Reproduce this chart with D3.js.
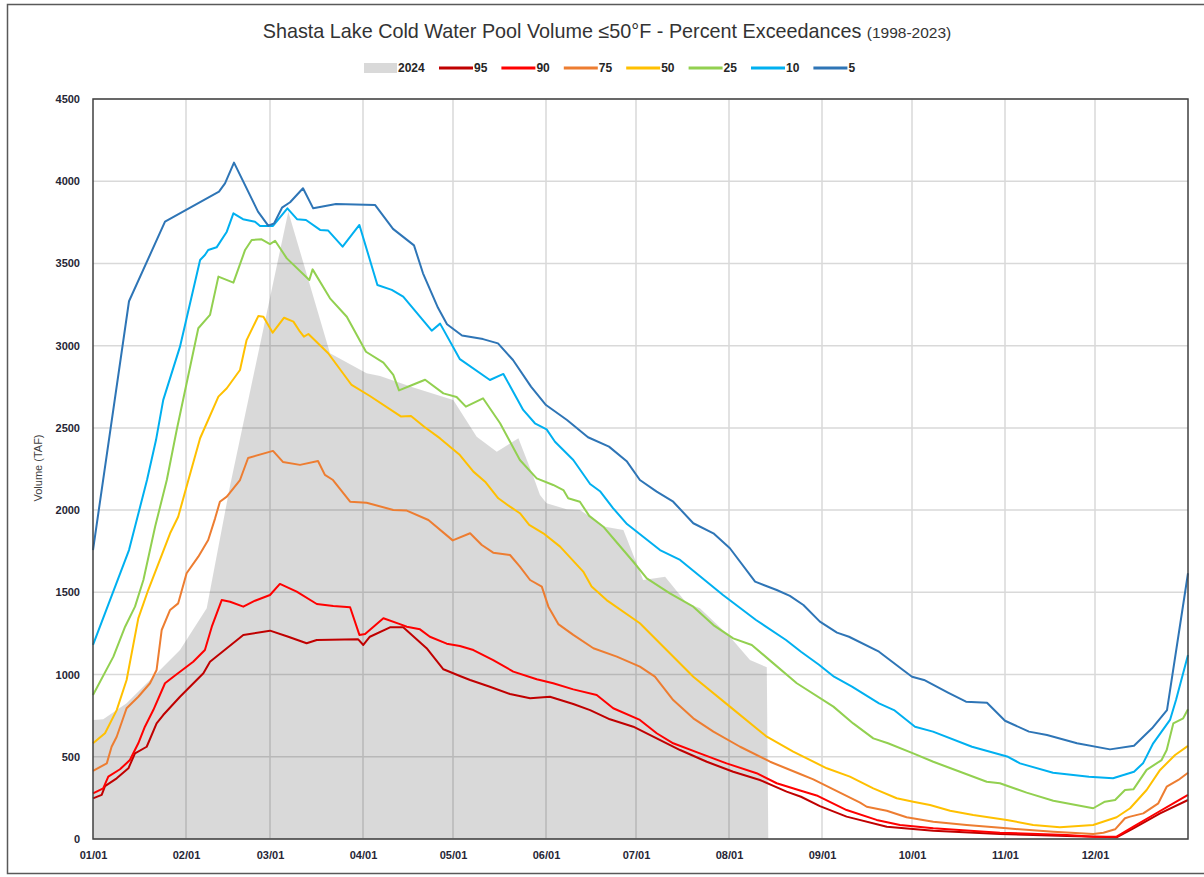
<!DOCTYPE html>
<html>
<head>
<meta charset="utf-8">
<script src="https://cdn.jsdelivr.net/npm/d3@7"></script>
<style>
  body { margin: 0; background: #fff; }
  svg text { font-family: "Liberation Sans", Arial, sans-serif; }
</style>
</head>
<body>
<div id="chart"></div>
<script>
// month ticks (day of year) and labels
const monthDays = [0, 31, 59, 90, 120, 151, 181, 212, 243, 273, 304, 334]
const monthLabels = ["01/01","02/01","03/01","04/01","05/01","06/01","07/01","08/01","09/01","10/01","11/01","12/01"]
const yTicks = [0, 500, 1000, 1500, 2000, 2500, 3000, 3500, 4000, 4500]

// 2024 observed volume (TAF), [day, value]
const obs2024 = [[0,724],[3.4,728],[11.2,825],[20.1,987],[29,1149],[37.9,1403],[45.7,2150],[65.1,3815],
  [79,2954],[91.2,2832],[95.7,2815],[106.8,2746],[120.1,2669],[127.9,2446],[134.6,2355],[141.8,2437],
  [146.8,2203],[149,2092],[151.2,2041],[157.9,2005],[162.3,2001],[170.7,1899],[176.8,1879],[183.4,1575],
  [190.7,1595],[197.9,1433],[202.3,1403],[212.3,1230],[219,1088],[224.6,1044],[225.1,0]]

// exceedance curves (1998-2023), [day, value]
const p95 = [[0,247],[2.9,268],[4,322],[7.9,369],[11.8,430],[14,521],[17.9,561],[21.2,703],[23.4,754],[29,865],
  [36.8,1008],[39,1078],[50.1,1241],[59,1267],[65.1,1230],[71.2,1190],[74.6,1210],[88.4,1214],[90.1,1180],
  [92.3,1230],[99,1287],[103.4,1287],[111.2,1160],[116.8,1032],[122.3,991],[125.7,967],[132.3,926],[139,882],
  [145.7,856],[152.3,865],[160.1,821],[165.7,784],[172.3,728],[180.1,683],[187.9,612],[195.7,541],[204.6,470],
  [213.4,409],[222.3,359],[231.2,288],[236,257],[242.3,200],[251.2,136],[264.6,75],[280.1,50],[302.3,30],
  [324.6,18],[341.2,10],[346.8,65],[355.7,156],[365,237]]
const p90 = [[0,278],[3.4,308],[5.1,379],[9,424],[12.3,480],[15.1,582],[17.3,683],[20.1,784],[24,947],[26.8,987],
  [33.4,1078],[37.3,1149],[39.6,1291],[42.9,1453],[45.7,1443],[50.1,1413],[54,1449],[59,1484],[62.3,1551],
  [67.9,1504],[74.6,1429],[80.1,1417],[85.7,1409],[88.8,1241],[90.7,1247],[96.8,1342],[102.3,1307],[104.6,1291],
  [109,1275],[112.3,1230],[117.9,1188],[122.3,1174],[126.8,1149],[133.4,1088],[140.1,1018],[147.9,971],
  [153.4,947],[160.1,910],[167.9,876],[173.4,795],[182.3,724],[187.9,643],[193.4,582],[202.3,521],[211.2,460],
  [221.2,400],[227.9,339],[235.7,295],[241.2,265],[251.2,176],[261.2,116],[269,85],[280.1,65],[302.3,38],
  [324.6,24],[333.4,14],[341.2,14],[346.8,75],[353.4,146],[360.1,217],[365,268]]
const p75 = [[0,414],[4.6,460],[6.2,561],[7.9,622],[11.2,795],[15.1,865],[19,947],[21.2,1028],[22.9,1271],
  [25.7,1393],[28.4,1433],[31.2,1616],[35.1,1717],[38.4,1818],[40.7,1950],[42.3,2051],[44.6,2082],[49,2183],
  [51.7,2317],[60,2360],[63.3,2293],[69,2275],[75,2299],[77.3,2214],[80,2183],[85.7,2051],[91.2,2045],
  [100.1,2001],[104.6,1997],[111.8,1940],[119.9,1816],[125.7,1859],[129.6,1788],[133.4,1741],[139,1727],
  [142.3,1656],[145.7,1575],[149.6,1535],[151.8,1413],[155.1,1307],[160.1,1241],[166.8,1160],[174.6,1109],
  [182.3,1048],[187.3,987],[193.4,845],[200.1,734],[206.8,653],[215.7,561],[225.7,470],[235.7,395],[240.1,363],
  [246.8,302],[255.7,221],[257.9,196],[264.6,172],[271.2,132],[280.1,105],[291.2,85],[304.6,65],[320.1,44],
  [333.4,30],[336.8,38],[340.7,59],[344,126],[345.7,136],[350.1,156],[355.1,217],[357.9,318],[361.8,359],[365,403]]
const p50 = [[0,582],[4,643],[7.9,784],[11.2,967],[15.1,1342],[18.4,1514],[22.3,1697],[25.7,1859],[28.4,1960],
  [31.8,2183],[35.7,2437],[41.8,2690],[44.6,2741],[49,2852],[51.2,3034],[55.1,3180],[56.8,3176],[59.9,3079],
  [63.7,3170],[66.8,3146],[69,3085],[70.3,3055],[71.8,3071],[78.4,2954],[86.2,2761],[92.3,2694],[102.6,2570],
  [106,2572],[110.4,2507],[115.7,2436],[122.3,2335],[126.8,2234],[130.7,2173],[135.1,2072],[139,2021],
  [142.3,1981],[145.4,1910],[150.1,1859],[155.7,1778],[163.4,1626],[166.2,1535],[171.2,1453],[182.3,1312],
  [191.2,1149],[200.1,987],[212.3,805],[224.6,622],[233.4,531],[244.6,430],[252.3,379],[260.1,308],[267.9,248],
  [273.4,227],[279,207],[285.7,172],[293.4,146],[304.6,116],[313.4,85],[322.3,71],[333.4,85],[341.2,132],
  [345.7,187],[351.2,298],[355.7,420],[360.7,511],[365,566]]
const p25 = [[0,876],[6.8,1109],[10.7,1291],[14,1413],[16.8,1575],[20.7,1899],[24.6,2183],[27.9,2487],[35.1,3106],
  [39,3187],[41.8,3420],[46.8,3383],[50.7,3582],[52.9,3643],[56.2,3647],[59,3618],[60.7,3638],[64.6,3531],
  [72.1,3399],[73.2,3464],[79,3288],[84.6,3176],[91,2963],[96.8,2897],[100.1,2822],[102,2728],[106.8,2764],
  [110.7,2793],[116.8,2710],[121.2,2688],[124.3,2629],[130,2680],[135.7,2528],[142.3,2305],[147.9,2193],
  [153.4,2153],[156.8,2122],[158.4,2072],[162.3,2051],[165.4,1965],[170.1,1899],[173.4,1829],[180.1,1686],
  [184.6,1585],[192.3,1494],[200.1,1413],[206.8,1301],[213.4,1220],[219.6,1180],[226.8,1068],[234.6,947],
  [246.8,805],[253.4,703],[260.1,612],[265,582],[273.4,521],[280.1,470],[289,409],[297.9,348],[302.3,339],
  [311.2,282],[320.1,233],[333.4,187],[337.3,227],[340.7,237],[344,298],[346.8,302],[351.2,420],[356.2,480],
  [357.9,541],[360.1,703],[363.4,734],[365,789]]
const p10 = [[0,1180],[12,1757],[18,2183],[21,2426],[23.4,2669],[29,2994],[35.7,3521],[37.3,3551],[38.4,3582],
  [41.2,3598],[44.6,3693],[46.8,3805],[50,3769],[54,3754],[55.7,3728],[60,3728],[64.8,3835],[68,3769],[71,3764],
  [75.7,3704],[78.4,3700],[83.2,3602],[88.8,3734],[94.8,3369],[99.6,3339],[103.4,3298],[112.9,3091],[115.7,3134],
  [122.3,2918],[132.3,2791],[136.8,2828],[143.4,2609],[147.3,2528],[151.2,2491],[154,2416],[160.1,2305],
  [165.7,2159],[169,2115],[173.4,2011],[178,1915],[189,1757],[195.7,1697],[210,1484],[221,1332],[231,1210],
  [236,1139],[242,1060],[247,987],[253,926],[262,825],[267,784],[274,683],[280,653],[293,561],[305,500],
  [309,460],[320,403],[332,379],[340,369],[347,409],[350,460],[353.4,582],[359,724],[361,845],[365,1119]]
const p5 = [[0,1757],[12,3270],[24,3754],[42,3937],[44,3987],[47,4113],[55,3815],[58.4,3730],[60.4,3744],[63,3839],
  [65.7,3872],[70,3957],[73.4,3835],[81,3862],[94,3856],[100,3710],[107,3610],[110,3440],[115,3230],[118,3130],
  [123,3062],[130,3040],[135,3014],[140,2913],[146,2751],[151,2639],[158,2548],[165,2443],[172,2386],[178,2295],
  [182.3,2183],[187.9,2112],[193.4,2051],[200.1,1920],[206.8,1859],[212.3,1768],[220.7,1565],[227.9,1514],
  [232.3,1478],[236.8,1423],[242.3,1322],[248,1255],[252,1230],[262,1139],[270,1028],[273,987],[277,967],
  [285,890],[291,835],[298,829],[304,719],[312,653],[318,632],[328,582],[339,545],[347,567],[353,673],
  [358,784],[365,1616]]

const seriesNames = ["95", "90", "75", "50", "25", "10", "5"]
const seriesData = [p95, p90, p75, p50, p25, p10, p5]
const seriesColors = ["#C00000", "#FF0000", "#ED7D31", "#FFC000", "#92D050", "#00B0F0", "#2E75B6"]

const W = 1204, H = 877
const plot = {left: 93, right: 1188, top: 99, bottom: 839}

const svg = d3.select("#chart").append("svg")
    .attr("width", W)
    .attr("height", H)

// outer chart border
svg.append("rect")
    .attr("x", 7.5).attr("y", 4.5)
    .attr("width", W).attr("height", 869)
    .attr("fill", "#fff")
    .attr("stroke", "#595959")
    .attr("stroke-width", 1.5)

const x = d3.scaleLinear().domain([0, 365]).range([plot.left, plot.right])
const y = d3.scaleLinear().domain([0, 4500]).range([plot.bottom, plot.top])

// gridlines
svg.append("g")
    .selectAll("line.h")
    .data(yTicks)
    .join("line")
    .attr("x1", plot.left).attr("x2", plot.right)
    .attr("y1", d => y(d)).attr("y2", d => y(d))
    .attr("stroke", "#D9D9D9").attr("stroke-width", 1.5)
svg.append("g")
    .selectAll("line.v")
    .data(monthDays.slice(1))
    .join("line")
    .attr("x1", d => x(d)).attr("x2", d => x(d))
    .attr("y1", plot.top).attr("y2", plot.bottom)
    .attr("stroke", "#D9D9D9").attr("stroke-width", 1.5)

// 2024 area
const area = d3.area()
    .x(d => x(d[0]))
    .y0(y(0))
    .y1(d => y(d[1]))
svg.append("path")
    .datum(obs2024)
    .attr("d", area)
    .attr("fill", "#000")
    .attr("fill-opacity", 0.15)

// exceedance lines
const line = d3.line()
    .x(d => x(d[0]))
    .y(d => y(d[1]))
seriesData.forEach((s, i) => {
    svg.append("path")
        .datum(s)
        .attr("d", line)
        .attr("fill", "none")
        .attr("stroke", seriesColors[i])
        .attr("stroke-width", 2)
        .attr("stroke-linejoin", "round")
})

// plot frame
svg.append("rect")
    .attr("x", plot.left).attr("y", plot.top)
    .attr("width", plot.right - plot.left)
    .attr("height", plot.bottom - plot.top)
    .attr("fill", "none")
    .attr("stroke", "#404040")
    .attr("stroke-width", 1.5)

// axes
const yAxis = svg.append("g")
    .attr("transform", `translate(${plot.left},0)`)
    .call(d3.axisLeft(y).tickValues(yTicks).tickSize(0).tickPadding(13).tickFormat(d3.format("d")))
const xAxis = svg.append("g")
    .attr("transform", `translate(0,${plot.bottom})`)
    .call(d3.axisBottom(x).tickValues(monthDays).tickSize(0).tickPadding(12)
        .tickFormat((d, i) => monthLabels[i]))
;[yAxis, xAxis].forEach(a => {
    a.select(".domain").remove()
    a.selectAll("text")
        .attr("font-size", 11)
        .attr("font-weight", "bold")
        .attr("fill", "#262635")
        .style("font-family", "'Liberation Sans', Arial, sans-serif")
})

// y label
svg.append("text")
    .attr("transform", "translate(42,468) rotate(-90)")
    .attr("text-anchor", "middle")
    .attr("font-size", 11)
    .attr("fill", "#404040")
    .text("Volume (TAF)")

// title
const title = svg.append("text")
    .attr("x", 607).attr("y", 38)
    .attr("text-anchor", "middle")
    .attr("fill", "#333")
title.append("tspan").attr("font-size", 19.8).text("Shasta Lake Cold Water Pool Volume ≤50°F - Percent Exceedances ")
title.append("tspan").attr("font-size", 15.5).text("(1998-2023)")

// legend
const legendY = 68
const lg = svg.append("g")
lg.append("rect")
    .attr("x", 364).attr("y", legendY - 5)
    .attr("width", 33).attr("height", 10)
    .attr("fill", "#D9D9D9")
lg.append("text")
    .attr("x", 398).attr("y", legendY + 4)
    .attr("font-size", 12).attr("font-weight", "bold").attr("fill", "#262626")
    .text("2024")
seriesNames.forEach((n, i) => {
    const x0 = 439 + i * 62.4
    lg.append("line")
        .attr("x1", x0).attr("x2", x0 + 34)
        .attr("y1", legendY).attr("y2", legendY)
        .attr("stroke", seriesColors[i]).attr("stroke-width", 3)
    lg.append("text")
        .attr("x", x0 + 35).attr("y", legendY + 4)
        .attr("font-size", 12).attr("font-weight", "bold").attr("fill", "#262626")
        .text(n)
})
</script>
</body>
</html>
